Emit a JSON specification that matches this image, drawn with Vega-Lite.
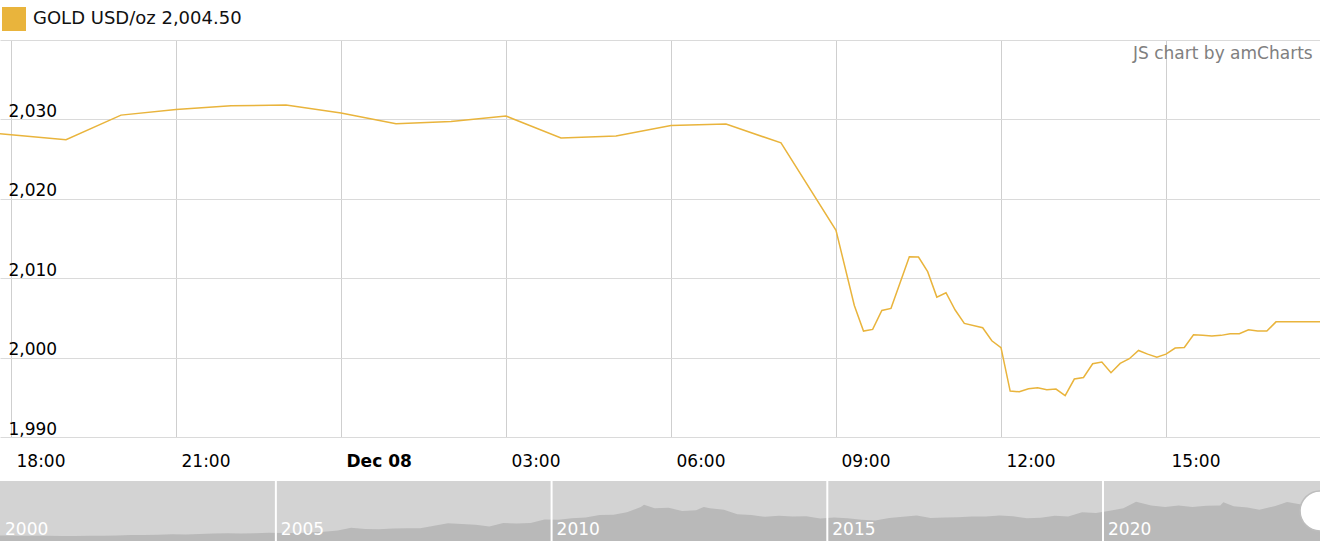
{
  "$schema": "https://vega.github.io/schema/vega-lite/v6.json",
  "background": "white",
  "padding": {"left": 0, "top": 7, "right": 0, "bottom": 0},
  "spacing": 44,
  "bounds": "flush",
  "config": {
    "font": "DejaVu Sans",
    "view": {"stroke": null},
    "axis": {"labelFont": "DejaVu Sans"},
    "text": {"font": "DejaVu Sans"}
  },
  "vconcat": [
    {
      "width": 1320,
      "height": 397,
      "data": {
        "values": [
          {"t": "2023-12-07T17:00", "v": 2028.72},
          {"t": "2023-12-07T18:00", "v": 2028.07},
          {"t": "2023-12-07T19:00", "v": 2027.44},
          {"t": "2023-12-07T20:00", "v": 2030.54},
          {"t": "2023-12-07T21:00", "v": 2031.26},
          {"t": "2023-12-07T22:00", "v": 2031.72},
          {"t": "2023-12-07T23:00", "v": 2031.8},
          {"t": "2023-12-08T00:00", "v": 2030.8},
          {"t": "2023-12-08T01:00", "v": 2029.46},
          {"t": "2023-12-08T02:00", "v": 2029.75},
          {"t": "2023-12-08T03:00", "v": 2030.42},
          {"t": "2023-12-08T04:00", "v": 2027.65},
          {"t": "2023-12-08T05:00", "v": 2027.9},
          {"t": "2023-12-08T06:00", "v": 2029.24},
          {"t": "2023-12-08T07:00", "v": 2029.41},
          {"t": "2023-12-08T08:00", "v": 2027.04},
          {"t": "2023-12-08T09:00", "v": 2016.02},
          {"t": "2023-12-08T09:20", "v": 2006.57},
          {"t": "2023-12-08T09:30", "v": 2003.34},
          {"t": "2023-12-08T09:40", "v": 2003.55},
          {"t": "2023-12-08T09:50", "v": 2005.94},
          {"t": "2023-12-08T10:00", "v": 2006.2},
          {"t": "2023-12-08T10:20", "v": 2012.71},
          {"t": "2023-12-08T10:30", "v": 2012.66},
          {"t": "2023-12-08T10:40", "v": 2010.82},
          {"t": "2023-12-08T10:50", "v": 2007.62},
          {"t": "2023-12-08T11:00", "v": 2008.17},
          {"t": "2023-12-08T11:10", "v": 2005.99},
          {"t": "2023-12-08T11:20", "v": 2004.31},
          {"t": "2023-12-08T11:40", "v": 2003.76},
          {"t": "2023-12-08T11:50", "v": 2002.12},
          {"t": "2023-12-08T12:00", "v": 2001.25},
          {"t": "2023-12-08T12:10", "v": 1995.78},
          {"t": "2023-12-08T12:20", "v": 1995.7},
          {"t": "2023-12-08T12:30", "v": 1996.08},
          {"t": "2023-12-08T12:40", "v": 1996.2},
          {"t": "2023-12-08T12:50", "v": 1995.96},
          {"t": "2023-12-08T13:00", "v": 1996.04},
          {"t": "2023-12-08T13:10", "v": 1995.2},
          {"t": "2023-12-08T13:20", "v": 1997.3},
          {"t": "2023-12-08T13:30", "v": 1997.5},
          {"t": "2023-12-08T13:40", "v": 1999.23},
          {"t": "2023-12-08T13:50", "v": 1999.44},
          {"t": "2023-12-08T14:00", "v": 1998.1},
          {"t": "2023-12-08T14:10", "v": 1999.27},
          {"t": "2023-12-08T14:20", "v": 1999.86},
          {"t": "2023-12-08T14:30", "v": 2000.9},
          {"t": "2023-12-08T14:40", "v": 2000.44},
          {"t": "2023-12-08T14:50", "v": 2000.06},
          {"t": "2023-12-08T15:00", "v": 2000.44},
          {"t": "2023-12-08T15:10", "v": 2001.2},
          {"t": "2023-12-08T15:20", "v": 2001.28},
          {"t": "2023-12-08T15:30", "v": 2002.88},
          {"t": "2023-12-08T15:40", "v": 2002.8},
          {"t": "2023-12-08T15:50", "v": 2002.71},
          {"t": "2023-12-08T16:00", "v": 2002.8},
          {"t": "2023-12-08T16:10", "v": 2003.01},
          {"t": "2023-12-08T16:20", "v": 2003.01},
          {"t": "2023-12-08T16:30", "v": 2003.51},
          {"t": "2023-12-08T16:40", "v": 2003.34},
          {"t": "2023-12-08T16:50", "v": 2003.34},
          {"t": "2023-12-08T17:00", "v": 2004.5},
          {"t": "2023-12-08T17:10", "v": 2004.5},
          {"t": "2023-12-08T17:20", "v": 2004.5},
          {"t": "2023-12-08T17:30", "v": 2004.5},
          {"t": "2023-12-08T17:40", "v": 2004.5},
          {"t": "2023-12-08T17:50", "v": 2004.5}
        ]
      },
      "layer": [
        {
          "mark": {"type": "line", "strokeWidth": 1.5, "clip": true},
          "encoding": {
            "x": {
              "field": "t",
              "type": "temporal",
              "scale": {
                "domain": [
                  {"year": 2023, "month": 12, "date": 7, "hours": 17, "minutes": 48},
                  {"year": 2023, "month": 12, "date": 8, "hours": 17, "minutes": 48}
                ],
                "nice": false
              },
              "axis": {
                "title": null,
                "values": [
                  {"year": 2023, "month": 12, "date": 7, "hours": 18},
                  {"year": 2023, "month": 12, "date": 7, "hours": 21},
                  {"year": 2023, "month": 12, "date": 8, "hours": 0},
                  {"year": 2023, "month": 12, "date": 8, "hours": 3},
                  {"year": 2023, "month": 12, "date": 8, "hours": 6},
                  {"year": 2023, "month": 12, "date": 8, "hours": 9},
                  {"year": 2023, "month": 12, "date": 8, "hours": 12},
                  {"year": 2023, "month": 12, "date": 8, "hours": 15}
                ],
                "labelExpr": "hours(datum.value) == 0 ? timeFormat(datum.value, '%b %d') : timeFormat(datum.value, '%H:%M')",
                "labelFontWeight": {"condition": {"test": "hours(datum.value) == 0", "value": "bold"}, "value": "normal"},
                "labelAlign": "left",
                "labelBaseline": "middle",
                "labelPadding": 24,
                "labelOffset": 5,
                "labelFontSize": 17,
                "labelColor": "#000000",
                "labelFlush": false,
                "labelOverlap": false,
                "ticks": false,
                "domain": false,
                "grid": true,
                "gridColor": "#cfcfcf",
                "gridWidth": 1
              }
            },
            "y": {
              "field": "v",
              "type": "quantitative",
              "scale": {"domain": [1990, 2040], "nice": false, "zero": false},
              "axis": {
                "title": null,
                "values": [1990, 2000, 2010, 2020, 2030, 2040],
                "labelExpr": "datum.value == 2040 ? '' : format(datum.value, ',')",
                "labelAlign": "left",
                "labelBaseline": "alphabetic",
                "labelPadding": -8,
                "labelOffset": -3,
                "labelFontSize": 17,
                "labelColor": "#000000",
                "labelFlush": false,
                "labelOverlap": false,
                "ticks": false,
                "domain": false,
                "grid": true,
                "gridColor": "#dadada",
                "gridWidth": 1
              }
            },
            "color": {
              "datum": "GOLD USD/oz 2,004.50",
              "type": "nominal",
              "scale": {"range": ["#E9B43C"]},
              "legend": {
                "title": null,
                "orient": "none",
                "legendX": 2,
                "legendY": -33,
                "padding": 0,
                "symbolType": "square",
                "symbolSize": 576,
                "labelFontSize": 18,
                "labelFont": "DejaVu Sans",
                "labelColor": "#111111",
                "labelOffset": 7,
                "labelLimit": 0,
                "encode": {
                  "symbols": {
                    "update": {
                      "fill": {"value": "#E9B43C"},
                      "stroke": {"value": "#E9B43C"},
                      "strokeWidth": {"value": 0},
                      "opacity": {"value": 1}
                    }
                  }
                }
              }
            }
          }
        },
        {
          "data": {"values": [{"label": "JS chart by amCharts"}]},
          "mark": {"type": "text", "align": "right", "baseline": "middle", "fontSize": 17, "color": "#808080"},
          "encoding": {
            "x": {"datum": {"year": 2023, "month": 12, "date": 8, "hours": 17, "minutes": 40}, "type": "temporal"},
            "y": {"datum": 2038.2, "type": "quantitative"},
            "text": {"field": "label"}
          }
        }
      ]
    },
    {
      "width": 1320,
      "height": 60,
      "view": {"fill": "#d3d3d3", "stroke": null},
      "layer": [
        {
          "data": {
            "values": [
              {"d": "2000-01-01", "p": 290},
              {"d": "2000-02-15", "p": 290}, {"d": "2000-05-15", "p": 280}, {"d": "2000-08-15", "p": 275}, {"d": "2000-11-15", "p": 270},
              {"d": "2001-02-15", "p": 265}, {"d": "2001-05-15", "p": 262}, {"d": "2001-08-15", "p": 272}, {"d": "2001-11-15", "p": 280},
              {"d": "2002-02-15", "p": 292}, {"d": "2002-05-15", "p": 315}, {"d": "2002-08-15", "p": 312}, {"d": "2002-11-15", "p": 322},
              {"d": "2003-02-15", "p": 355}, {"d": "2003-05-15", "p": 345}, {"d": "2003-08-15", "p": 365}, {"d": "2003-11-15", "p": 392},
              {"d": "2004-02-15", "p": 410}, {"d": "2004-05-15", "p": 392}, {"d": "2004-08-15", "p": 402}, {"d": "2004-11-15", "p": 438},
              {"d": "2005-02-15", "p": 425}, {"d": "2005-05-15", "p": 425}, {"d": "2005-08-15", "p": 440}, {"d": "2005-11-15", "p": 485},
              {"d": "2006-02-15", "p": 555}, {"d": "2006-05-15", "p": 690}, {"d": "2006-08-15", "p": 625}, {"d": "2006-11-15", "p": 620},
              {"d": "2007-02-15", "p": 660}, {"d": "2007-05-15", "p": 665}, {"d": "2007-08-15", "p": 670}, {"d": "2007-11-15", "p": 800},
              {"d": "2008-02-15", "p": 930}, {"d": "2008-05-15", "p": 890}, {"d": "2008-08-15", "p": 850}, {"d": "2008-11-15", "p": 760},
              {"d": "2009-02-15", "p": 940}, {"d": "2009-05-15", "p": 920}, {"d": "2009-08-15", "p": 950}, {"d": "2009-11-15", "p": 1130},
              {"d": "2010-02-15", "p": 1110}, {"d": "2010-05-15", "p": 1200}, {"d": "2010-08-15", "p": 1230}, {"d": "2010-11-15", "p": 1370},
              {"d": "2011-02-15", "p": 1375}, {"d": "2011-05-15", "p": 1510}, {"d": "2011-08-15", "p": 1780}, {"d": "2011-09-05", "p": 1900}, {"d": "2011-11-15", "p": 1720},
              {"d": "2012-02-15", "p": 1740}, {"d": "2012-05-15", "p": 1580}, {"d": "2012-08-15", "p": 1620}, {"d": "2012-10-05", "p": 1780}, {"d": "2012-11-15", "p": 1720},
              {"d": "2013-02-15", "p": 1640}, {"d": "2013-05-15", "p": 1400}, {"d": "2013-08-15", "p": 1360}, {"d": "2013-11-15", "p": 1270},
              {"d": "2014-02-15", "p": 1320}, {"d": "2014-05-15", "p": 1290}, {"d": "2014-08-15", "p": 1300}, {"d": "2014-11-15", "p": 1180},
              {"d": "2015-02-15", "p": 1230}, {"d": "2015-05-15", "p": 1200}, {"d": "2015-08-15", "p": 1120}, {"d": "2015-11-15", "p": 1080},
              {"d": "2016-02-15", "p": 1210}, {"d": "2016-05-15", "p": 1270}, {"d": "2016-08-15", "p": 1340}, {"d": "2016-11-15", "p": 1210},
              {"d": "2017-02-15", "p": 1230}, {"d": "2017-05-15", "p": 1250}, {"d": "2017-08-15", "p": 1280}, {"d": "2017-11-15", "p": 1280},
              {"d": "2018-02-15", "p": 1340}, {"d": "2018-05-15", "p": 1300}, {"d": "2018-08-15", "p": 1190}, {"d": "2018-11-15", "p": 1220},
              {"d": "2019-02-15", "p": 1320}, {"d": "2019-05-15", "p": 1290}, {"d": "2019-08-15", "p": 1510}, {"d": "2019-11-15", "p": 1470},
              {"d": "2020-02-15", "p": 1590}, {"d": "2020-05-15", "p": 1720}, {"d": "2020-08-07", "p": 2060}, {"d": "2020-11-15", "p": 1870},
              {"d": "2021-02-15", "p": 1790}, {"d": "2021-05-15", "p": 1870}, {"d": "2021-08-15", "p": 1780}, {"d": "2021-11-15", "p": 1850},
              {"d": "2022-02-15", "p": 1870}, {"d": "2022-03-08", "p": 2040}, {"d": "2022-05-15", "p": 1820}, {"d": "2022-08-15", "p": 1760}, {"d": "2022-11-01", "p": 1640},
              {"d": "2023-02-15", "p": 1840}, {"d": "2023-05-04", "p": 2050}, {"d": "2023-08-15", "p": 1900}, {"d": "2023-10-05", "p": 1820}, {"d": "2023-11-15", "p": 1970},
              {"d": "2023-12-08", "p": 2005}
            ]
          },
          "mark": {"type": "area", "color": "#b9b9b9", "clip": true},
          "encoding": {
            "x": {
              "field": "d",
              "type": "temporal",
              "scale": {"domain": [{"year": 2000, "month": 1, "date": 1}, {"year": 2023, "month": 12, "date": 8}], "nice": false},
              "axis": null
            },
            "y": {"field": "p", "type": "quantitative", "scale": {"domain": [0, 3150], "nice": false}, "axis": null}
          }
        },
        {
          "data": {"values": [{"yr": "2005-01-01"}, {"yr": "2010-01-01"}, {"yr": "2015-01-01"}, {"yr": "2020-01-01"}]},
          "mark": {"type": "rule", "color": "#ffffff", "strokeWidth": 2},
          "encoding": {"x": {"field": "yr", "type": "temporal"}}
        },
        {
          "data": {"values": [
            {"yr": "2000-01-01", "label": "2000"},
            {"yr": "2005-01-01", "label": "2005"},
            {"yr": "2010-01-01", "label": "2010"},
            {"yr": "2015-01-01", "label": "2015"},
            {"yr": "2020-01-01", "label": "2020"}
          ]},
          "mark": {"type": "text", "align": "left", "baseline": "alphabetic", "dx": 5, "dy": -6, "fontSize": 17, "color": "#ffffff"},
          "encoding": {
            "x": {"field": "yr", "type": "temporal"},
            "y": {"datum": 0, "type": "quantitative"},
            "text": {"field": "label"}
          }
        },
        {
          "data": {"values": [{"k": "handle"}]},
          "mark": {"type": "point", "shape": "circle", "filled": true, "fill": "#ffffff", "stroke": "#bdbdbd", "strokeWidth": 1.5, "size": 1590, "opacity": 1, "clip": true},
          "encoding": {
            "x": {"datum": {"year": 2023, "month": 12, "date": 8}, "type": "temporal"},
            "y": {"datum": 1575, "type": "quantitative"}
          }
        }
      ]
    }
  ]
}
